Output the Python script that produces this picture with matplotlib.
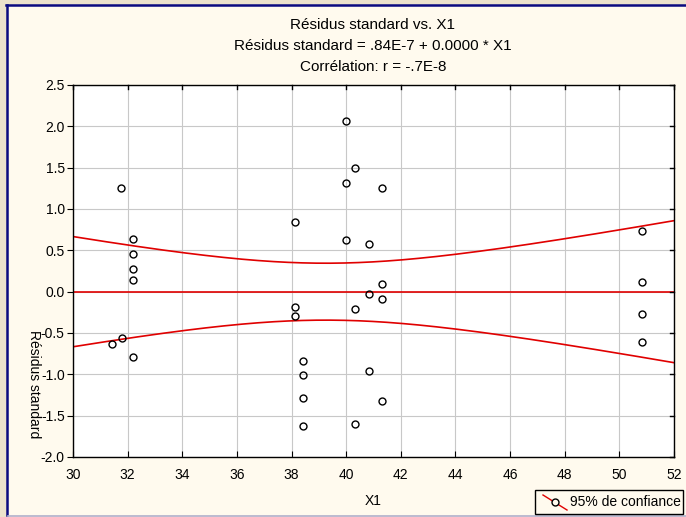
import numpy as np
import matplotlib.pyplot as plt
from matplotlib.patches import Rectangle
from matplotlib.lines import Line2D

plt.rcParams['font.family'] = ['Liberation Sans', 'DejaVu Sans']

# X1 and standardized residuals
x1 = [31.43, 31.78, 31.76, 32.19, 32.19, 32.19, 32.19, 32.19,
      38.12, 38.12, 38.12, 38.41, 38.41, 38.41, 38.41,
      40.0, 40.0, 40.0, 40.34, 40.34, 40.34,
      40.83, 40.83, 40.83, 41.32, 41.32, 41.32, 41.32,
      50.83, 50.83, 50.83, 50.83]
resid = [-0.63, -0.556, 1.258, 0.635, 0.46, 0.27, 0.145, -0.786,
         0.843, -0.185, -0.294, -0.834, -1.008, -1.29, -1.62,
         2.07, 1.32, 0.63, 1.496, -0.209, -1.597,
         0.577, -0.024, -0.955, 1.254, 0.097, -0.088, -1.318,
         0.738, 0.117, -0.274, -0.608]

intercept = 0.84e-7
slope = 0.0
t_crit = 2.042  # t(0.975, n-2)

title_lines = ["Résidus standard vs. X1",
               "Résidus standard = .84E-7 + 0.0000 * X1",
               "Corrélation: r = -.7E-8"]

x1 = np.array(x1)
resid = np.array(resid)
n = len(x1)

# fitted line and 95% confidence band of the mean
xs = np.linspace(30, 52, 300)
fit = intercept + slope * xs
s = np.sqrt(np.sum((resid - intercept - slope * x1) ** 2) / (n - 2))
sxx = np.sum((x1 - x1.mean()) ** 2)
half = t_crit * s * np.sqrt(1 / n + (xs - x1.mean()) ** 2 / sxx)

fig = plt.figure(figsize=(6.86, 5.17), dpi=100)
fig.patch.set_facecolor('#ECE2CC')

W, H = 686, 517
def fx(px):
    return px / W
def fy(py):
    return 1 - py / H

# cream panel with navy frame
fig.patches.append(Rectangle((fx(8), fy(515)), fx(686 - 8), (515 - 6) / H,
                             transform=fig.transFigure, facecolor='#FFFAEE',
                             edgecolor='none', zorder=-10))
fig.add_artist(Line2D([fx(7), fx(7)], [fy(5), fy(515)], color='#0A0A80', lw=1.8))
fig.add_artist(Line2D([fx(6), 1], [fy(5), fy(5)], color='#0A0A80', lw=1.8))
fig.add_artist(Line2D([fx(8), 1], [fy(516), fy(516)], color='#B4B4D2', lw=1.2))

ax = fig.add_axes([fx(73), fy(457), fx(674 - 73), (457 - 85) / H])
ax.set_facecolor('white')

ax.grid(True, color='#C8C8C8', lw=0.8)
ax.set_axisbelow(True)

ax.plot(xs, fit, color='#E00000', lw=1.2, zorder=2)
ax.plot(xs, fit + half, color='#E00000', lw=1.2, zorder=2)
ax.plot(xs, fit - half, color='#E00000', lw=1.2, zorder=2)
ax.plot(x1, resid, 'o', mfc='none', mec='black', ms=5, mew=1.0, zorder=3)

ax.set_xlim(30, 52)
ax.set_ylim(-2.0, 2.5)
ax.set_xticks(np.arange(30, 53, 2))
ax.set_yticks(np.arange(-2.0, 2.51, 0.5))
ax.set_yticklabels([f"{v:.1f}" for v in np.arange(-2.0, 2.51, 0.5)])
ax.tick_params(axis='y', direction='out', length=4, labelsize=10, pad=2)
ax.tick_params(axis='x', direction='in', length=4, labelsize=10, pad=8)
for sp in ax.spines.values():
    sp.set_linewidth(1.0)

# inward ticks on top and right edges
for v in np.arange(30, 53, 2):
    ax.plot([v, v], [2.5, 2.5 - 0.045], color='black', lw=1.0, clip_on=False)
for v in np.arange(-2.0, 2.51, 0.5):
    ax.plot([52, 52 - 0.16], [v, v], color='black', lw=1.0, clip_on=False)

for i, line in enumerate(title_lines):
    fig.text(fx(373), fy([25, 46, 67][i]), line, ha='center', va='center', fontsize=11)

fig.text(fx(373), fy(501), "X1", ha='center', va='center', fontsize=10)
fig.text(fx(34), fy(384), "Résidus standard", ha='center', va='center',
         rotation=-90, fontsize=10)

# legend box
fig.patches.append(Rectangle((fx(535), fy(514)), fx(683 - 535), (514 - 490) / H,
                             transform=fig.transFigure, facecolor='#FFFAEE',
                             edgecolor='black', lw=1.0, zorder=5))
fig.add_artist(Line2D([fx(543), fx(567)], [fy(495), fy(510)], color='#E00000', lw=1.0, zorder=6))
fig.add_artist(Line2D([fx(555)], [fy(502)], marker='o', mfc='#FFFAEE', mec='black',
                      ms=5, mew=1.0, zorder=7))
fig.text(fx(570), fy(502), "95% de confiance", ha='left', va='center', fontsize=10, zorder=7)

fig.savefig("out.png", dpi=100, facecolor=fig.get_facecolor())
